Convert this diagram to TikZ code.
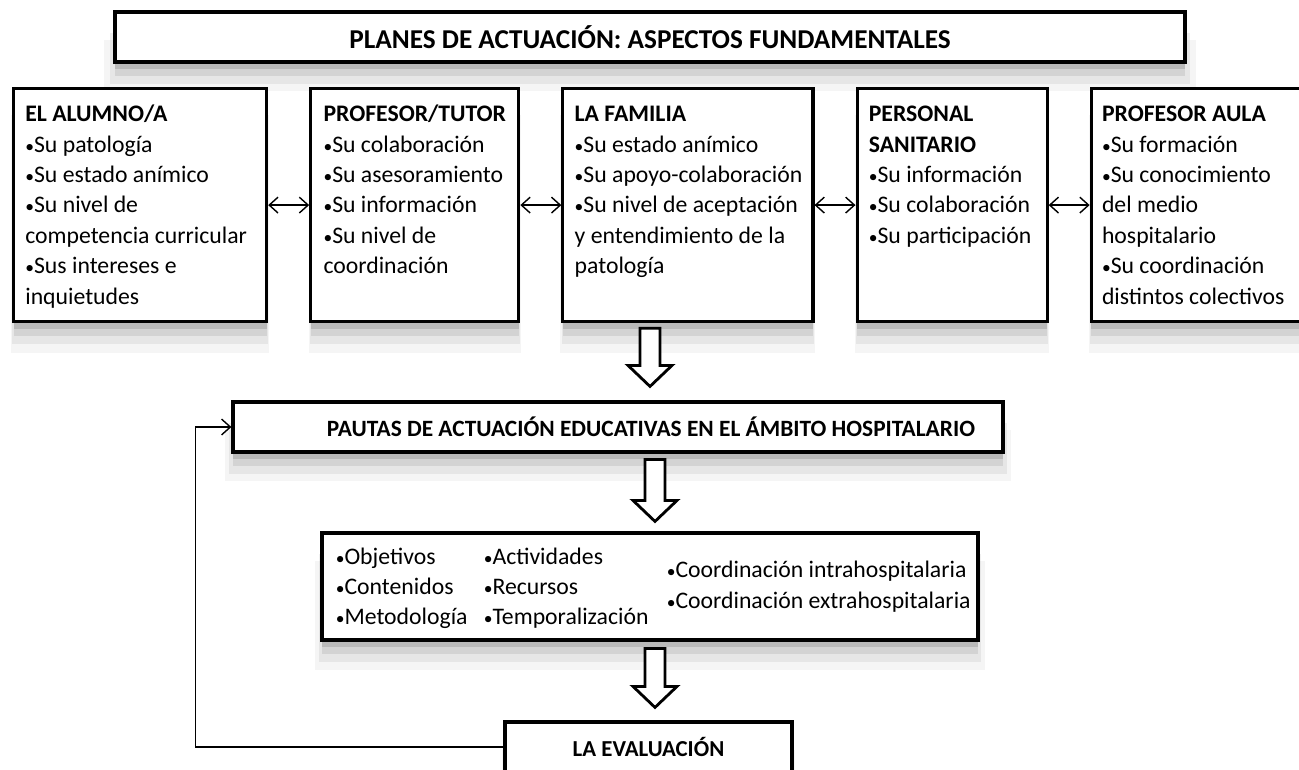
\documentclass[tikz,border=0pt]{standalone}
\usepackage{fontspec}
\setmainfont{Carlito}
\usetikzlibrary{positioning, calc, arrows.meta, shadows}

\newcommand{\vineta}{{\fontsize{10}{10}\selectfont•}}

\tikzset{caja/.style={
        draw,
        rectangle,
        line width=1.8pt,
        fill=white,
        inner sep=0pt,
        general shadow={fill=black, opacity=0.04, shadow yshift=-16pt, shadow scale=1.02},
        general shadow={fill=black, opacity=0.06, shadow yshift=-12pt, shadow scale=1.01},
        general shadow={fill=black, opacity=0.08, shadow yshift=-8pt},
        general shadow={fill=black, opacity=0.12, shadow yshift=-4pt}
}}
\tikzset{fila/.style={
        caja,
        minimum height=4.66cm
}}
\tikzset{texto/.style={
        anchor=north west,
        inner sep=0pt,
        align=left,
        font=\fontsize{13.5}{17.3}\selectfont
}}
\tikzset{titulo/.style={font=\fontsize{15.5}{18}\selectfont\bfseries}}
\tikzset{doble/.style={draw,line width=0.8pt,{Straight Barb[length=5pt,width=9pt]}-{Straight Barb[length=5pt,width=9pt]}}}
\tikzset{retorno/.style={draw,line width=0.8pt,-{Straight Barb[length=5pt,width=9pt]}}}
\tikzset{hueca/.style={draw,line width=1.6pt,fill=white,line join=miter}}

% hollow block arrow from #1 (top) down to #2 (tip)
\newcommand{\flechahueca}[2]{%
  \draw[hueca] ($(#1)+(-0.2,0)$) -- ($(#1)+(0.2,0)$) -- ($(#2)+(0.2,0.42)$)
    -- ($(#2)+(0.44,0.42)$) -- (#2) -- ($(#2)+(-0.44,0.42)$)
    -- ($(#2)+(-0.2,0.42)$) -- cycle;}

\begin{document}
\begin{tikzpicture}[node distance=0.82cm]
\path[use as bounding box, clip] (0,0) rectangle (25.98,-15.38);
\fill[white] (0,0) rectangle (25.98,-15.38);

% title
\node[caja, titulo, minimum width=21.4cm, minimum height=1cm] (planes) at (13,-0.74) {PLANES DE ACTUACIÓN: ASPECTOS FUNDAMENTALES};

% top row
\node[fila, minimum width=5.06cm, anchor=north west] (alumno) at (0.24,-1.74) {};
\node[fila, minimum width=4.16cm, right=of alumno] (profesor) {};
\node[fila, minimum width=5.0cm, right=of profesor] (familia) {};
\node[fila, minimum width=3.8cm, right=of familia] (sanitario) {};
\node[fila, minimum width=4.2cm, right=of sanitario] (aula) {};

\node[texto] (alumno-t) at ($(alumno.north west)+(0.26,-0.26)$) {\strut\textbf{EL ALUMNO/A}\\\vineta Su patología\\\vineta Su estado anímico\\\vineta Su nivel de\\competencia curricular\\\vineta Sus intereses e\\inquietudes};
\node[texto] (profesor-t) at ($(profesor.north west)+(0.28,-0.26)$) {\strut\textbf{PROFESOR/TUTOR}\\\vineta Su colaboración\\\vineta Su asesoramiento\\\vineta Su información\\\vineta Su nivel de\\coordinación};
\node[texto] (familia-t) at ($(familia.north west)+(0.26,-0.26)$) {\strut\textbf{LA FAMILIA}\\\vineta Su estado anímico\\\vineta Su apoyo-colaboración\\\vineta Su nivel de aceptación\\y entendimiento de la\\patología};
\node[texto] (sanitario-t) at ($(sanitario.north west)+(0.26,-0.26)$) {\strut\textbf{PERSONAL}\\\textbf{SANITARIO}\\\vineta Su información\\\vineta Su colaboración\\\vineta Su participación};
\node[texto] (aula-t) at ($(aula.north west)+(0.24,-0.26)$) {\strut\textbf{PROFESOR AULA}\\\vineta Su formación\\\vineta Su conocimiento\\del medio\\hospitalario\\\vineta Su coordinación\\distintos colectivos};

\draw[doble] (alumno) -- (profesor);
\draw[doble] (profesor) -- (familia);
\draw[doble] (familia) -- (sanitario);
\draw[doble] (sanitario) -- (aula);

% guidelines
\node[caja, minimum width=15.4cm, minimum height=1cm] (pautas) at (12.36,-8.54) {};
\node[titulo, font=\fontsize{13.3}{16}\selectfont\bfseries] (pautas-t) at ($(pautas.center)+(0.66,0)$) {PAUTAS DE ACTUACIÓN EDUCATIVAS EN EL ÁMBITO HOSPITALARIO};

\node[caja, minimum width=13.12cm, minimum height=2.14cm] (lista) at (13,-11.73) {};
\node[texto] (lista-a) at ($(lista.north west)+(0.3,-0.22)$) {\strut\vineta Objetivos\\\vineta Contenidos\\\vineta Metodología};
\node[texto] (lista-b) at ($(lista.north west)+(3.26,-0.22)$) {\strut\vineta Actividades\\\vineta Recursos\\\vineta Temporalización};
\node[texto, anchor=west] (lista-c) at ($(lista.west)+(6.92,0)$) {\vineta Coordinación intrahospitalaria\\\vineta Coordinación extrahospitalaria};

\node[caja, titulo, font=\fontsize{13}{16}\selectfont\bfseries, minimum width=5.74cm, minimum height=1cm] (evaluacion) at (12.97,-14.94) {LA EVALUACIÓN};

% block arrows
\coordinate (f1a) at ($(planes.south |- familia.south)+(0,-0.1)$);
\coordinate (f1b) at ($(planes.south |- pautas.north)+(0,0.28)$);
\coordinate (f2a) at ($(lista.north |- pautas.south)+(0.1,-0.12)$);
\coordinate (f2b) at ($(lista.north)+(0.1,0.2)$);
\coordinate (f3a) at ($(lista.south)+(0.1,-0.14)$);
\coordinate (f3b) at ($(lista.south |- evaluacion.north)+(0.1,0.26)$);
\flechahueca{f1a}{f1b}
\flechahueca{f2a}{f2b}
\flechahueca{f3a}{f3b}

\draw[retorno] (evaluacion.west) -- ++(-6.16,0) |- (pautas.west);
\end{tikzpicture}
\end{document}
